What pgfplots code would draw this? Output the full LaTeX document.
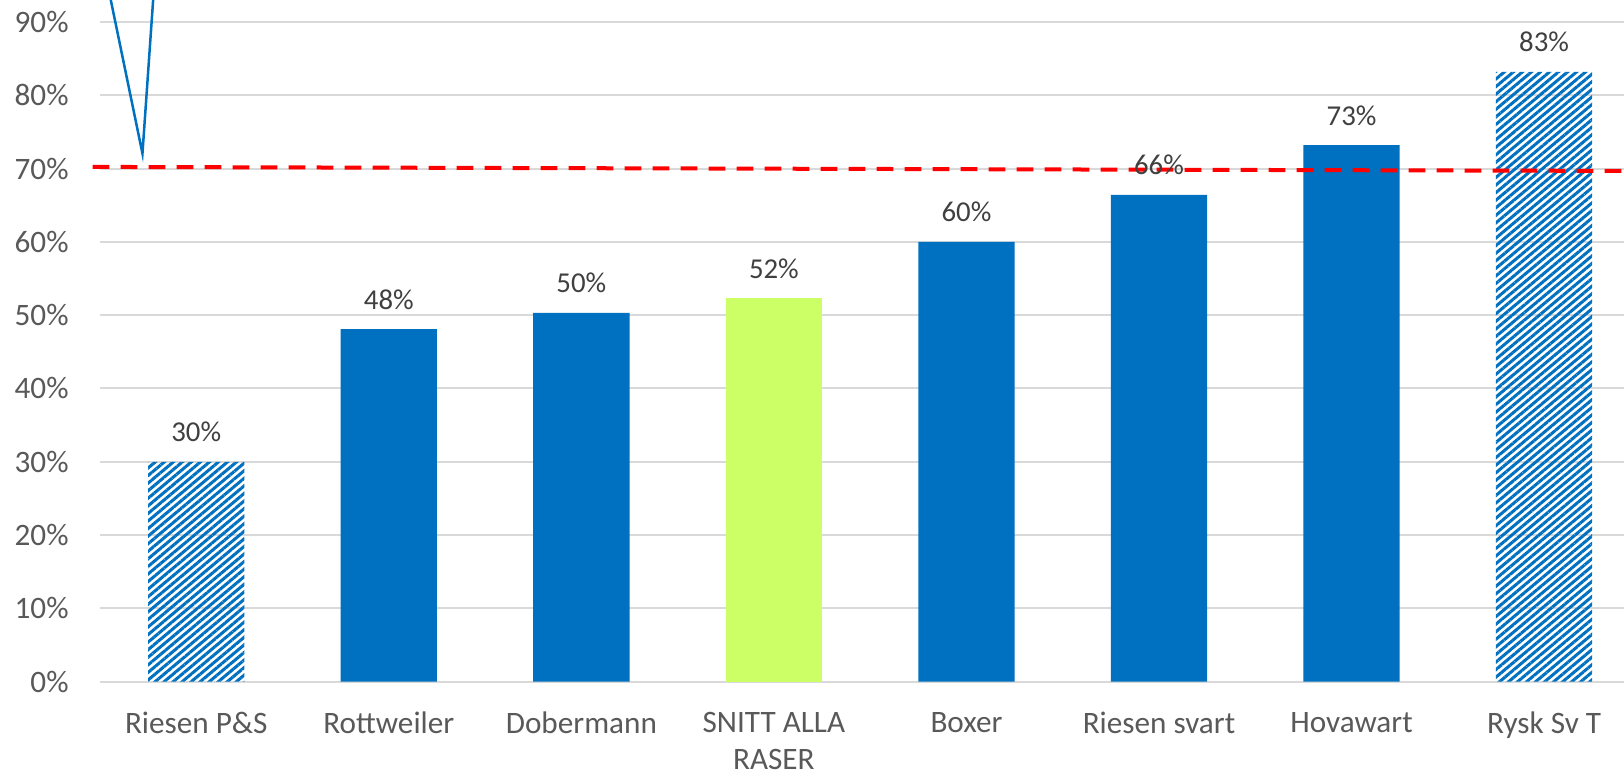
\documentclass[border=0pt]{standalone}
\usepackage{fontspec}
\setmainfont{Carlito}
\usepackage{pgfplots}
\pgfplotsset{compat=1.18}
\usetikzlibrary{patterns.meta}
\definecolor{barblue}{HTML}{0070C0}
\definecolor{bargreen}{HTML}{CCFF66}
\definecolor{gridgray}{HTML}{D9D9D9}
\definecolor{labgray}{HTML}{595959}
\definecolor{valgray}{HTML}{404040}

\begin{document}
\begin{tikzpicture}
\begin{axis}[
    scale only axis,
    width=762pt, height=340.85pt,
    xmin=-0.5, xmax=7.415,
    ymin=0, ymax=93,
    clip=false,
    xtick={0,...,7},
    xticklabels={Riesen P\&S, Rottweiler, Dobermann, {SNITT ALLA\\RASER}, Boxer, Riesen svart, Hovawart, Rysk Sv T},
    ytick={0,10,...,90},
    yticklabel={\pgfmathprintnumber[assume math mode=true]{\tick}\%},
    xticklabel style={font=\fontsize{15.6}{18.5}\selectfont, text=labgray, align=center, anchor=north, inner sep=0pt, yshift=-15pt},
    yticklabel style={font=\fontsize{15.6}{18.5}\selectfont, text=labgray, anchor=east, inner sep=0pt, xshift=-15.5pt},
    major tick length=0pt,
    axis line style={draw=none},
    ymajorgrids,
    grid style={gridgray, line width=1pt},
    nodes near coords={\pgfmathprintnumber[fixed,precision=0,assume math mode=true]{\pgfplotspointmeta}\%},
    nodes near coords style={anchor=base, yshift=10pt, inner sep=0pt, font=\fontsize{14.4}{17}\selectfont, text=valgray},
]
% solid blue bars
\addplot[ybar, bar width=0.5, bar shift=0, draw=none, fill=barblue]
    coordinates {(1,48.1) (2,50.3) (4,60.0) (5,66.4) (6,73.2)};
% hatched bars
\addplot[ybar, bar width=0.5, bar shift=0, draw=none,
    pattern={Lines[angle=40,distance=2.9pt,line width=1.5pt]}, pattern color=barblue]
    coordinates {(0,30.0) (7,83.2)};
% average of all breeds
\addplot[ybar, bar width=0.5, bar shift=0, draw=none, fill=bargreen]
    coordinates {(3,52.3)};

% 70% reference line
\draw[red, line width=2pt, dash pattern=on 8.3pt off 5.7pt]
    (axis cs:-0.538,70.23) -- (axis cs:7.415,69.68);
% callout pointer
\draw[barblue, line width=1.25pt, line join=miter]
    (axis cs:-0.444,93) -- (axis cs:-0.2795,72.06) -- (axis cs:-0.224,93);
\end{axis}
\pgfresetboundingbox
\useasboundingbox (-50pt,-46.15pt) rectangle (762pt,340.85pt);
\end{tikzpicture}
\end{document}
